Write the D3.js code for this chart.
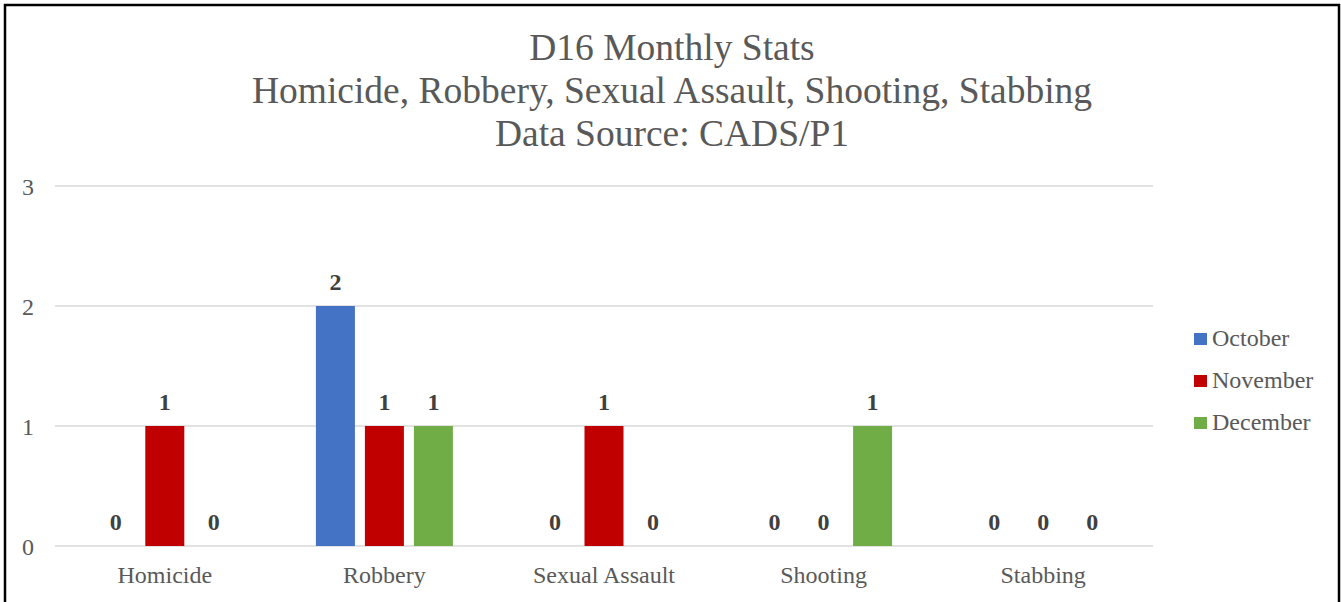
<!DOCTYPE html>
<html><head><meta charset="utf-8">
<script src="https://cdn.jsdelivr.net/npm/d3@7"></script>
<style>body{margin:0;background:#fff}svg{display:block}</style>
</head><body>
<svg id="c" width="1341" height="602"></svg>
<script>
const categories = ["Homicide","Robbery","Sexual Assault","Shooting","Stabbing"];
const seriesNames = ["October","November","December"];
const october = [0,2,0,0,0];
const november = [1,1,1,0,0];
const december = [0,1,0,1,0];
const seriesColors = ["#4472C4","#C00000","#70AD47"];
const yTicks = [0,1,2,3];
const titleLines = ["D16 Monthly Stats","Homicide, Robbery, Sexual Assault, Shooting, Stabbing","Data Source: CADS/P1"];

const series = [october, november, december];
const svg = d3.select("#c");
const font = "'Liberation Serif','Times New Roman',serif";

svg.append("rect").attr("x",5).attr("y",5).attr("width",1334).attr("height",610)
  .attr("fill","#fff").attr("stroke","#000").attr("stroke-width",2.5);

const x0 = d3.scaleBand().domain(categories).range([55,1153]);
const x1 = d3.scaleBand().domain(seriesNames).range([0,137]).paddingInner(0.204).paddingOuter(0);
const y = d3.scaleLinear().domain([0,3]).range([546,186]);

// title
const titleY = [59.5, 102.8, 146];
svg.append("g").selectAll("text").data(titleLines).join("text")
  .attr("x",672).attr("y",(d,i)=>titleY[i]).attr("text-anchor","middle")
  .attr("font-family",font).attr("font-size",37.5)
  .attr("fill","#595959").text(d=>d);

// grid
svg.append("g").selectAll("line").data(yTicks).join("line")
  .attr("x1",55).attr("x2",1153).attr("y1",d=>y(d)).attr("y2",d=>y(d))
  .attr("stroke","#d9d9d9").attr("stroke-width",1.5);

// y labels
svg.append("g").selectAll("text").data(yTicks).join("text")
  .attr("x",28).attr("y",d=>y(d)+8.5).attr("text-anchor","middle")
  .attr("font-family",font).attr("font-size",24).attr("fill","#595959").text(d=>d);

// bars
const groups = svg.append("g").selectAll("g").data(categories).join("g")
  .attr("transform",c=>`translate(${x0(c)+x0.bandwidth()/2-68.5},0)`);
groups.each(function(c,ci){
  const g = d3.select(this);
  seriesNames.forEach((s,si)=>{
    const v = series[si][ci];
    if(v>0){
      g.append("rect").attr("x",x1(s)).attr("width",x1.bandwidth())
        .attr("y",y(v)).attr("height",y(0)-y(v)).attr("fill",seriesColors[si]);
    }
    g.append("text").attr("x",x1(s)+x1.bandwidth()/2).attr("y",y(v)-16.5)
      .attr("text-anchor","middle").attr("font-family",font).attr("font-weight","bold")
      .attr("font-size",24).attr("fill","#404040").text(v);
  });
});

// category labels
svg.append("g").selectAll("text").data(categories).join("text")
  .attr("x",c=>x0(c)+x0.bandwidth()/2).attr("y",583).attr("text-anchor","middle")
  .attr("font-family",font).attr("font-size",24).attr("fill","#595959").text(d=>d);

// legend
const leg = svg.append("g").selectAll("g").data(seriesNames).join("g")
  .attr("transform",(d,i)=>`translate(1194,${346+i*42})`);
leg.append("rect").attr("x",0).attr("y",-13).attr("width",13).attr("height",12)
  .attr("fill",(d,i)=>seriesColors[i]);
leg.append("text").attr("x",18).attr("y",0).attr("font-family",font)
  .attr("font-size",24).attr("fill","#595959").text(d=>d);
</script>
</body></html>
